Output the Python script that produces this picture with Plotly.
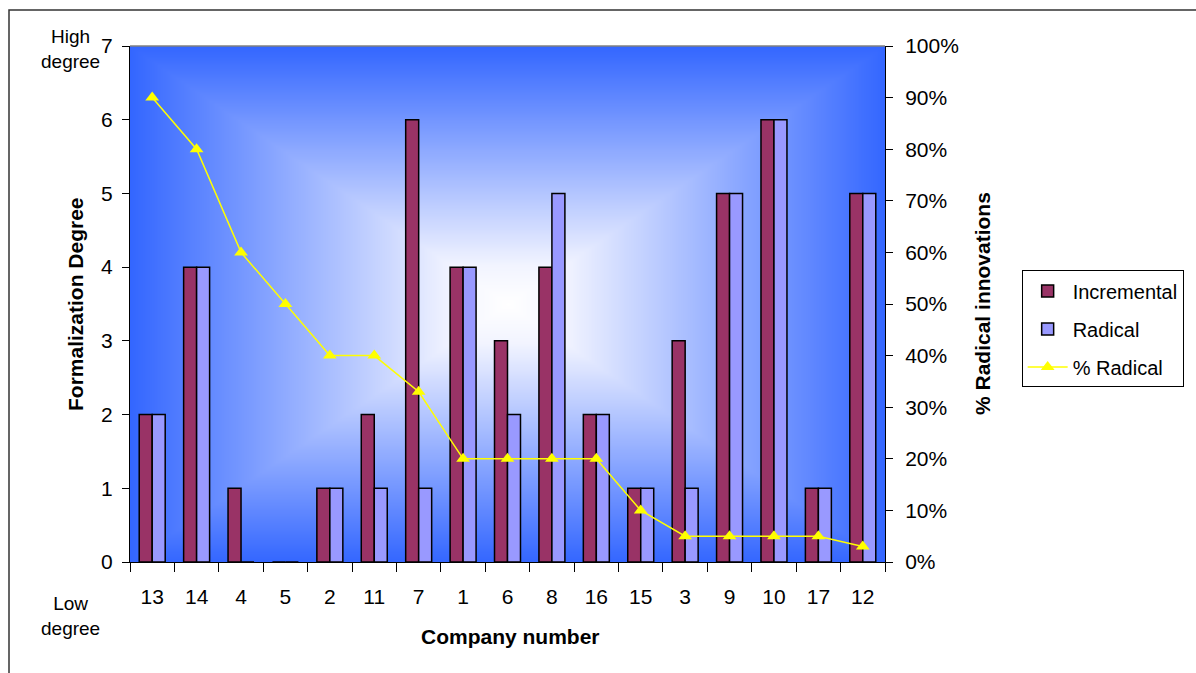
import numpy as np
import plotly.graph_objects as go

# Company order along the x axis
companies = ["13", "14", "4", "5", "2", "11", "7", "1", "6", "8", "16", "15", "3", "9", "10", "17", "12"]
# Formalization degree per innovation type
incremental = [2, 4, 1, 0, 1, 2, 6, 4, 3, 4, 2, 1, 3, 5, 6, 1, 5]
radical = [2, 4, 0, 0, 1, 1, 1, 4, 2, 5, 2, 1, 1, 5, 6, 1, 5]
# Share of radical innovations
pct_radical = [0.90, 0.80, 0.60, 0.50, 0.40, 0.40, 0.33, 0.20, 0.20, 0.20, 0.20, 0.10, 0.05, 0.05, 0.05, 0.05, 0.03]

FONT = "Liberation Sans, Arial, sans-serif"

# Rectangular "from centre" background gradient (white centre, blue edges)
g = np.linspace(-1, 1, 161)
gx, gy = np.meshgrid(g, g)
shade = np.maximum(np.abs(gx), np.abs(gy))

fig = go.Figure()

fig.add_trace(go.Heatmap(
    x=g, y=g, z=shade, xaxis="x", yaxis="y",
    colorscale=[[0, "#FFFFFF"], [0.15, "#F2F4FF"], [1, "#3366FF"]],
    zmin=0, zmax=1, zsmooth="best", showscale=False, hoverinfo="skip",
    showlegend=False,
))

fig.add_trace(go.Bar(
    x=companies, y=incremental, name="Incremental", xaxis="x2", yaxis="y2",
    marker=dict(color="#993366", line=dict(color="black", width=1.5)),
    legendgroup="a",
))
fig.add_trace(go.Bar(
    x=companies, y=radical, name="Radical", xaxis="x2", yaxis="y2",
    marker=dict(color="#9999FF", line=dict(color="black", width=1.5)),
    legendgroup="b",
))
fig.add_trace(go.Scatter(
    x=companies, y=pct_radical, name="% Radical", xaxis="x2", yaxis="y3",
    mode="lines+markers",
    line=dict(color="#FFFF00", width=1.5),
    marker=dict(symbol="triangle-up", size=12, color="#FFFF00"),
    legendgroup="c",
))

tickfont = dict(family=FONT, size=21, color="black")

fig.update_layout(
    width=1196, height=673,
    margin=dict(l=130, r=311, t=46, b=111),
    paper_bgcolor="white", plot_bgcolor="rgba(0,0,0,0)",
    barmode="group", bargap=0.415, bargroupgap=0,
    font=dict(family=FONT, size=21, color="black"),
    xaxis=dict(range=[-1, 1], visible=False, fixedrange=True),
    yaxis=dict(range=[-1, 1], visible=False, fixedrange=True),
    xaxis2=dict(
        type="category", overlaying="x", anchor="y2", side="bottom",
        range=[-0.5, len(companies) - 0.5],
        showline=True, linecolor="black", linewidth=1,
        ticks="outside", ticklen=9, tickcolor="black", tickson="boundaries",
        tickfont=tickfont, showgrid=False, zeroline=False,
        ticklabelstandoff=16,
    ),
    yaxis2=dict(
        overlaying="y", side="left", range=[0, 7], dtick=1,
        showline=True, linecolor="black", linewidth=1,
        ticks="outside", ticklen=7, tickcolor="black",
        tickfont=tickfont, showgrid=False, zeroline=False,
        ticklabelstandoff=5,
    ),
    yaxis3=dict(
        overlaying="y", side="right", range=[0, 1], dtick=0.1, tickformat=".0%",
        showline=True, linecolor="black", linewidth=1,
        ticks="outside", ticklen=7, tickcolor="black",
        tickfont=tickfont, showgrid=False, zeroline=False,
        anchor="x2", ticklabelstandoff=8,
    ),
    legend=dict(
        x=1.181, y=0.565, xanchor="left", yanchor="top",
        bgcolor="white", bordercolor="black", borderwidth=1,
        font=dict(family=FONT, size=20, color="black"),
        tracegroupgap=9, itemwidth=40,
    ),
    showlegend=True,
)

# Top border of the plot area and outer chart frame
fig.add_shape(type="line", xref="paper", yref="paper", x0=0, x1=1, y0=1, y1=1,
              line=dict(color="#808080", width=1.5))
fig.add_shape(type="rect", xref="paper", yref="paper",
              x0=(9 - 130) / 755, x1=1.6, y0=-0.5, y1=(562 - 9) / 517,
              line=dict(color="#333333", width=1.5), fillcolor="rgba(0,0,0,0)")

annotations = [
    dict(text="Formalization Degree", x=(75 - 130) / 755, y=0.5, textangle=-90,
         font=dict(family=FONT, size=21, color="black", weight="bold")),
    dict(text="% Radical innovations", x=(982 - 130) / 755, y=0.5, textangle=-90,
         font=dict(family=FONT, size=21, color="black", weight="bold")),
    dict(text="Company number", x=(510 - 130) / 755, y=(562 - 637) / 517,
         font=dict(family=FONT, size=21, color="black", weight="bold")),
    dict(text="High<br>degree", x=(70 - 130) / 755, y=(562 - 48) / 517,
         font=dict(family=FONT, size=19, color="black")),
    dict(text="Low<br>degree", x=(70 - 130) / 755, y=(562 - 616) / 517,
         font=dict(family=FONT, size=19, color="black")),
]
for a in annotations:
    fig.add_annotation(xref="paper", yref="paper", xanchor="center", yanchor="middle",
                       showarrow=False, **a)

fig.write_html("out.html")
